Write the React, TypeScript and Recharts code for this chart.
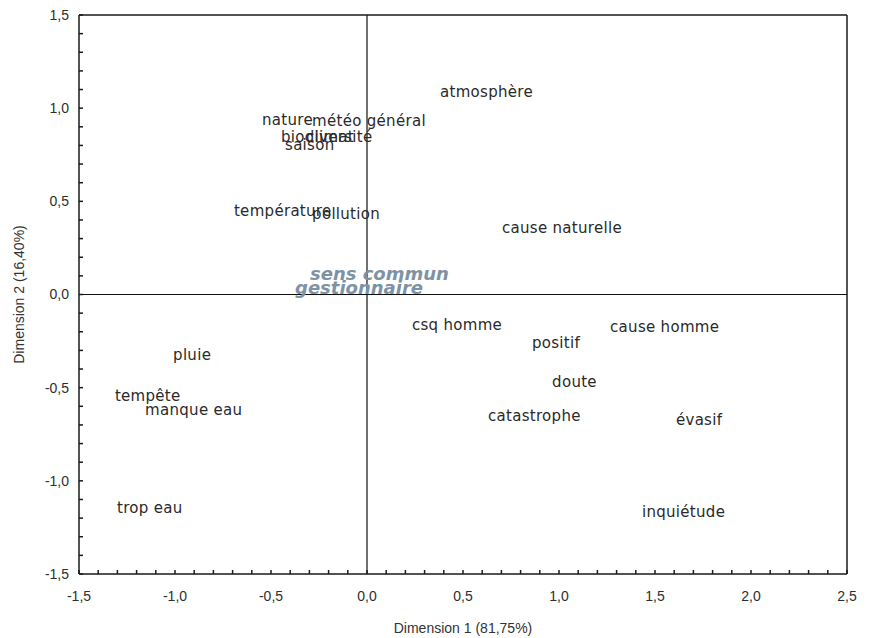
import { ScatterChart, Scatter, XAxis, YAxis, ReferenceLine } from "recharts"

// modalités (lignes)
const words = [
    "atmosphère", "nature", "météo général", "biodiversité", "climat", "saison",
    "température", "pollution", "cause naturelle", "csq homme", "cause homme",
    "positif", "pluie", "doute", "tempête", "manque eau", "catastrophe",
    "évasif", "trop eau", "inquiétude",
]
const wordDim1 = [
    0.38, -0.547, -0.286, -0.448, -0.318, -0.427,
    -0.693, -0.286, 0.703, 0.234, 1.266,
    0.859, -1.01, 0.964, -1.313, -1.156, 0.63,
    1.609, -1.302, 1.432,
]
const wordDim2 = [
    1.087, 0.937, 0.931, 0.845, 0.845, 0.802,
    0.448, 0.432, 0.357, -0.164, -0.174,
    -0.26, -0.325, -0.47, -0.545, -0.62, -0.652,
    -0.674, -1.146, -1.167,
]

// groupes (colonnes)
const groups = ["sens commun", "gestionnaire"]
const groupDim1 = [-0.297, -0.375]
const groupDim2 = [0.115, 0.04]

const xMajor = [-1.5, -1.0, -0.5, 0, 0.5, 1.0, 1.5, 2.0, 2.5]
const yMajor = [-1.5, -1.0, -0.5, 0, 0.5, 1.0, 1.5]

const xTicks = Array.from({ length: 41 }, (_, i) => Math.round((-1.5 + i * 0.1) * 10) / 10)
const yTicks = Array.from({ length: 31 }, (_, i) => Math.round((-1.5 + i * 0.1) * 10) / 10)

const wordData = words.map((w, i) => ({ name: w, x: wordDim1[i], y: wordDim2[i] }))
const groupData = groups.map((g, i) => ({ name: g, x: groupDim1[i], y: groupDim2[i] }))

const fmt = (major: number[]) => (v: number) =>
    major.some((m) => Math.abs(m - v) < 1e-6) ? v.toFixed(1).replace(".", ",") : ""

const tickFont = { fontFamily: "Liberation Sans, Arial, sans-serif", fontSize: 14, fill: "#2e2e2e" }
const frame = "#1a1a1a"

const WordLabel = (props: any) => (
    <text
        x={props.cx}
        y={props.cy}
        dominantBaseline="central"
        fontFamily="DejaVu Sans, sans-serif"
        fontSize={15}
        letterSpacing={0.3}
        fill="#2a2a2a"
    >
        {props.payload.name}
    </text>
)

const GroupLabel = (props: any) => (
    <text
        x={props.cx}
        y={props.cy}
        dominantBaseline="central"
        fontFamily="DejaVu Sans, sans-serif"
        fontSize={18}
        fontWeight="bold"
        fontStyle="italic"
        fill="#7d93a5"
    >
        {props.payload.name}
    </text>
)

export default function App() {
    return (
        <ScatterChart width={861} height={630} margin={{ top: 6, right: 21, bottom: 0, left: 0 }}>
            <XAxis
                type="number"
                dataKey="x"
                domain={[-1.5, 2.5]}
                ticks={xTicks}
                interval={0}
                tickFormatter={fmt(xMajor)}
                tickSize={-4}
                tickMargin={21}
                height={64}
                tick={tickFont}
                stroke={frame}
                strokeWidth={1.5}
                allowDataOverflow
                label={(p: any) => (
                    <text
                        x={p.viewBox.x + p.viewBox.width / 2}
                        y={p.viewBox.y + p.viewBox.height - 5}
                        textAnchor="middle"
                        fontFamily="Liberation Sans, Arial, sans-serif"
                        fontSize={14}
                        fill="#333"
                    >
                        Dimension 1 (81,75%)
                    </text>
                )}
            />
            <XAxis
                xAxisId="top"
                orientation="top"
                type="number"
                domain={[-1.5, 2.5]}
                ticks={xTicks}
                interval={0}
                tickFormatter={() => ""}
                tickSize={-4}
                height={1}
                stroke={frame}
                strokeWidth={1.5}
            />
            <YAxis
                type="number"
                dataKey="y"
                domain={[-1.5, 1.5]}
                ticks={yTicks}
                interval={0}
                tickFormatter={fmt(yMajor)}
                tickSize={-4}
                tickMargin={14}
                width={71}
                tick={tickFont}
                stroke={frame}
                strokeWidth={1.5}
                allowDataOverflow
                label={(p: any) => (
                    <text
                        x={p.viewBox.x + 11}
                        y={p.viewBox.y + p.viewBox.height / 2}
                        transform={`rotate(-90, ${p.viewBox.x + 11}, ${p.viewBox.y + p.viewBox.height / 2})`}
                        textAnchor="middle"
                        dominantBaseline="central"
                        fontFamily="Liberation Sans, Arial, sans-serif"
                        fontSize={14}
                        fill="#333"
                    >
                        Dimension 2 (16,40%)
                    </text>
                )}
            />
            <YAxis
                yAxisId="right"
                orientation="right"
                type="number"
                domain={[-1.5, 1.5]}
                ticks={yTicks}
                interval={0}
                tickFormatter={() => ""}
                tickSize={-4}
                width={1}
                stroke={frame}
                strokeWidth={1.5}
            />
            <ReferenceLine x={0} stroke="#111" strokeWidth={1.2} />
            <ReferenceLine y={0} stroke="#111" strokeWidth={1.2} />
            <Scatter data={wordData} shape={WordLabel} isAnimationActive={false} />
            <Scatter data={groupData} shape={GroupLabel} isAnimationActive={false} />
        </ScatterChart>
    )
}
